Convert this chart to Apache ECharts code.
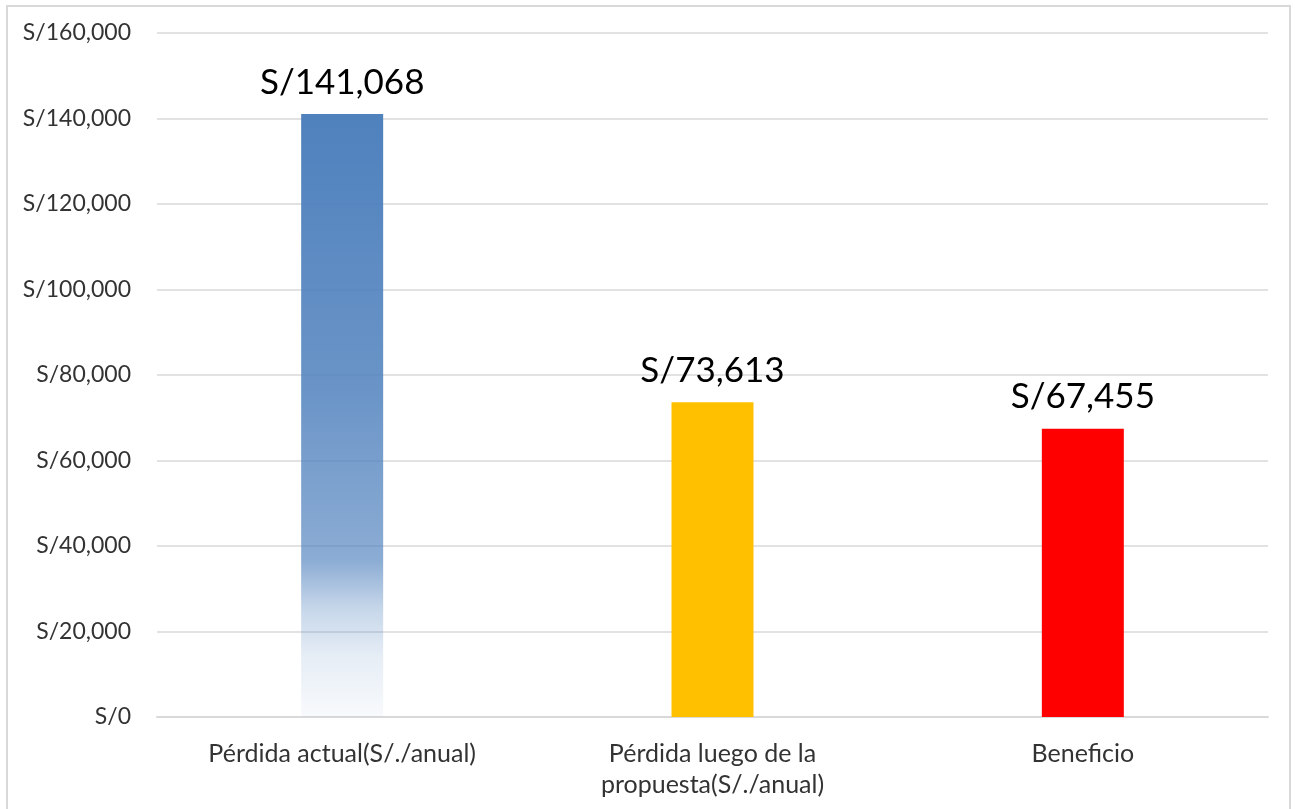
<!DOCTYPE html>
<html><head><meta charset="utf-8">
<script src="https://cdn.jsdelivr.net/npm/echarts@6/dist/echarts.min.js"></script>
<style>html,body{margin:0;padding:0;background:#fff}#c{width:1299px;height:809px}</style>
</head><body><div id="c"></div>
<script>
const categories = ['Pérdida actual(S/./anual)', 'Pérdida luego de la\npropuesta(S/./anual)', 'Beneficio'];
const values = [141068, 73613, 67455];
const yTicks = {min: 0, max: 160000, interval: 20000};

const FONT = 'Lato, sans-serif';
const fmt = v => 'S/' + v.toLocaleString('en-US');

const colors = [
  {type:'linear', x:0, y:0, x2:0, y2:1, colorStops:[
    {offset:0, color:'rgba(79,129,189,1)'},
    {offset:0.45, color:'rgba(79,129,189,0.85)'},
    {offset:0.74, color:'rgba(79,129,189,0.66)'},
    {offset:0.82, color:'rgba(79,129,189,0.32)'},
    {offset:0.9, color:'rgba(79,129,189,0.14)'},
    {offset:1, color:'rgba(79,129,189,0.04)'}]},
  '#FFC000',
  '#FF0000'
];

const chart = echarts.init(document.getElementById('c'), null, {renderer:'canvas'});
chart.setOption({
  animation:false,
  backgroundColor:'#fff',
  graphic:[{type:'rect', shape:{x:7, y:6, width:1283, height:820}, style:{fill:'none', stroke:'#d9d9d9', lineWidth:2}, silent:true}],
  grid:{left:157, right:31, top:33, bottom:92},
  xAxis:{type:'category', data:categories,
    axisLine:{lineStyle:{color:'#d9d9d9', width:2}}, axisTick:{show:false},
    axisLabel:{color:'#333', fontSize:25, fontFamily:FONT, lineHeight:31, margin:21}},
  yAxis:{type:'value', min:yTicks.min, max:yTicks.max, interval:yTicks.interval,
    axisLine:{show:false}, axisTick:{show:false},
    splitLine:{lineStyle:{color:'#d9d9d9', width:1.5}},
    axisLabel:{color:'#333', fontSize:23, fontFamily:FONT, margin:26, formatter:fmt}},
  series:[{type:'bar', barWidth:82,
    data: values.map((v,i)=>({value:v, itemStyle:{color:colors[i]}})),
    label:{show:true, position:'top', distance:14, color:'#000', fontSize:35, fontFamily:FONT, formatter:p=>fmt(p.value)}}]
});
</script></body></html>
